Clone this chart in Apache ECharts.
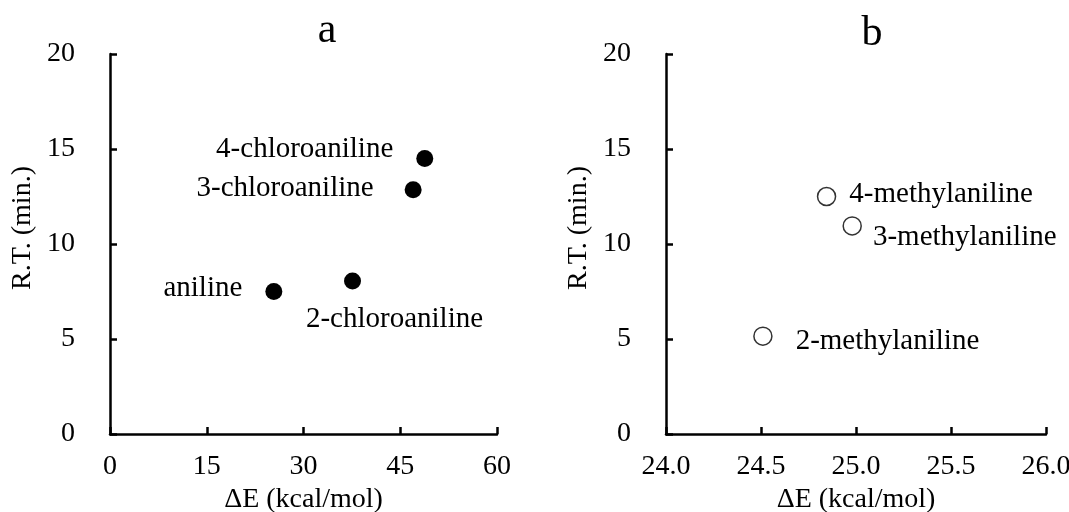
<!DOCTYPE html>
<html>
<head>
<meta charset="utf-8">
<script src="https://cdn.jsdelivr.net/npm/echarts@6/dist/echarts.min.js"></script>
<style>
	html, body { margin: 0; padding: 0; background: #fff; }
	#chart { width: 1069px; height: 512px; }
</style>
</head>
<body>
<div id="chart"></div>
<script>
	/* ---------------------------------------------
     Data
--------------------------------------------- */
	// Panel a - chloroanilines
	const namesA = ['aniline', '2-chloroaniline', '3-chloroaniline', '4-chloroaniline'];
	const energyA = [25.4, 37.6, 47.0, 48.8];
	const timeA = [7.5, 8.05, 12.85, 14.5];

	// Panel b - methylanilines
	const namesB = ['2-methylaniline', '3-methylaniline', '4-methylaniline'];
	const energyB = [24.51, 24.98, 24.845];
	const timeB = [5.15, 10.95, 12.5];

	// Axis ranges
	const xRangeA = [0, 60, 15];
	const xRangeB = [24, 26, 0.5];
	const yRange = [0, 20, 5];

	/* ---------------------------------------------
     Label placement (styling only)
--------------------------------------------- */
	const labelPlace = {
		aniline: { position: 'left', distance: 23, offset: [0, -3] },
		'2-chloroaniline': { position: 'inside', offset: [42, 38] },
		'3-chloroaniline': { position: 'left', distance: 31, offset: [0, -1] },
		'4-chloroaniline': { position: 'left', distance: 23, offset: [0, -9] },
		'2-methylaniline': { position: 'right', distance: 23, offset: [0, 5] },
		'3-methylaniline': { position: 'right', distance: 11, offset: [0, 11] },
		'4-methylaniline': { position: 'right', distance: 13, offset: [0, -2] },
	};

	const font = '"Liberation Serif", "Times New Roman", serif';

	function buildPoints(names, xs, ys) {
		return names.map((name, i) => ({
			name,
			value: [xs[i], ys[i]],
			label: Object.assign({ show: true, formatter: '{b}' }, labelPlace[name]),
		}));
	}

	function xAxisFor(grid, range, decimals) {
		return {
			type: 'value',
			gridIndex: grid,
			min: range[0],
			max: range[1],
			interval: range[2],
			name: '\u0394E (kcal/mol)',
			nameLocation: 'middle',
			nameGap: 46,
			nameTextStyle: { fontFamily: font, fontSize: 28, color: '#000' },
			axisLine: { onZero: false, lineStyle: { color: '#000', width: 2.5 } },
			axisTick: { inside: true, length: 7, lineStyle: { color: '#000', width: 2.5 } },
			axisLabel: {
				margin: 19,
				fontFamily: font,
				fontSize: 28,
				color: '#000',
				formatter: (v) => v.toFixed(decimals),
			},
			splitLine: { show: false },
		};
	}

	function yAxisFor(grid) {
		return {
			type: 'value',
			gridIndex: grid,
			min: yRange[0],
			max: yRange[1],
			interval: yRange[2],
			name: 'R.T. (min.)',
			nameLocation: 'middle',
			nameGap: 73,
			nameTextStyle: { fontFamily: font, fontSize: 28, color: '#000', padding: [0, 0, 0, 32] },
			axisLine: { onZero: false, lineStyle: { color: '#000', width: 2.5 } },
			axisTick: { inside: true, length: 7, lineStyle: { color: '#000', width: 2.5 } },
			axisLabel: { margin: 35, fontFamily: font, fontSize: 28, color: '#000' },
			splitLine: { show: false },
		};
	}

	/* ---------------------------------------------
     Chart
--------------------------------------------- */
	const chart = echarts.init(document.getElementById('chart'));
	const labelText = { fontFamily: font, fontSize: 29, color: '#000' };

	chart.setOption({
		animation: false,
		backgroundColor: '#fff',
		title: [
			{ text: 'a', left: 322, top: 5, textAlign: 'center', textStyle: { fontFamily: font, fontSize: 42, fontWeight: 'normal', color: '#000' } },
			{ text: 'b', left: 867, top: 8, textAlign: 'center', textStyle: { fontFamily: font, fontSize: 42, fontWeight: 'normal', color: '#000' } },
		],
		grid: [
			{ left: 110, right: 572, top: 54, bottom: 78, outerBoundsMode: 'none' },
			{ left: 666, right: 23, top: 54, bottom: 78, outerBoundsMode: 'none' },
		],
		xAxis: [xAxisFor(0, xRangeA, 0), xAxisFor(1, xRangeB, 1)],
		yAxis: [yAxisFor(0), yAxisFor(1)],
		series: [
			{
				type: 'scatter',
				xAxisIndex: 0,
				yAxisIndex: 0,
				symbolSize: 17,
				itemStyle: { color: '#000', opacity: 1 },
				label: labelText,
				data: buildPoints(namesA, energyA, timeA),
			},
			{
				type: 'scatter',
				xAxisIndex: 1,
				yAxisIndex: 1,
				symbolSize: 18,
				itemStyle: { color: '#fff', borderColor: '#333', borderWidth: 1.5, opacity: 1 },
				label: labelText,
				data: buildPoints(namesB, energyB, timeB),
			},
		],
	});
</script>
</body>
</html>
